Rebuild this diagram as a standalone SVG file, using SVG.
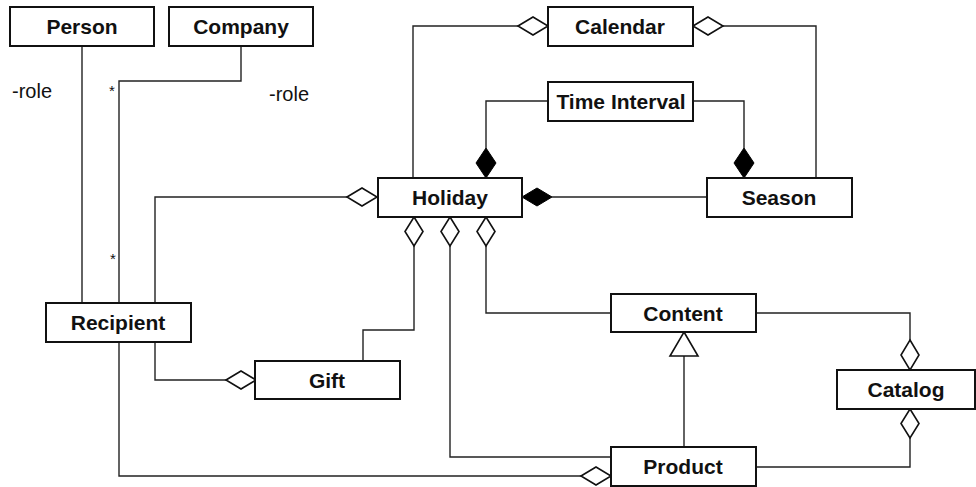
<svg xmlns="http://www.w3.org/2000/svg" width="976" height="487" viewBox="0 0 976 487">
<style>
.box{fill:#fff;stroke:#111;stroke-width:2}
.lbl{font-family:"Liberation Sans",Arial,sans-serif;font-weight:bold;font-size:21px;fill:#111;text-anchor:middle;dominant-baseline:central}
.txt{font-family:"Liberation Sans",Arial,sans-serif;font-size:20px;fill:#111}
.star{font-family:"Liberation Sans",Arial,sans-serif;font-size:15px;fill:#111}
.ln{fill:none;stroke:#222;stroke-width:1.4}
.od{fill:#fff;stroke:#111;stroke-width:1.6}
.fd{fill:#000;stroke:#000;stroke-width:1}
</style>
<rect width="976" height="487" fill="#fff"/>
<g id="connectors">
<path class="ln" d="M82 46V303"/>
<path class="ln" d="M241 46V81H119V303"/>
<path class="ln" d="M155 303V197H347"/>
<path class="ln" d="M155 342V380H226"/>
<path class="ln" d="M363 361V330H414V246"/>
<path class="ln" d="M119 342V476H581"/>
<path class="ln" d="M518 26H413V178"/>
<path class="ln" d="M723 26H816V178"/>
<path class="ln" d="M548 101H486V148"/>
<path class="ln" d="M693 101H744V148"/>
<path class="ln" d="M552 197H707"/>
<path class="ln" d="M450 246V457H611"/>
<path class="ln" d="M486 246V313H611"/>
<path class="ln" d="M684 356V447"/>
<path class="ln" d="M756 313H910V340"/>
<path class="ln" d="M910 438V467H756"/>
<polygon class="od" points="347,197 362,188 377,197 362,206"/>
<polygon class="od" points="226,380 241,371 256,380 241,389"/>
<polygon class="od" points="581,476 596,467 611,476 596,485"/>
<polygon class="od" points="518,26 533,17 548,26 533,35"/>
<polygon class="od" points="693,26 708,17 723,26 708,35"/>
<polygon class="od" points="414,217 423,231.5 414,246 405,231.5"/>
<polygon class="od" points="450,217 459,231.5 450,246 441,231.5"/>
<polygon class="od" points="486,217 495,231.5 486,246 477,231.5"/>
<polygon class="od" points="910,340 919,355 910,370 901,355"/>
<polygon class="od" points="910,409 919,423.5 910,438 901,423.5"/>
<polygon class="fd" points="522,197 537,188 552,197 537,206"/>
<polygon class="fd" points="486,148 496,163 486,178 476,163"/>
<polygon class="fd" points="744,148 754,163 744,178 734,163"/>
<polygon class="od" points="684,332 698,356 670,356"/>
<text class="txt" x="12" y="98">-role</text>
<text class="txt" x="269" y="101">-role</text>
<text class="star" x="109" y="96">*</text>
<text class="star" x="110" y="264">*</text>
</g>
<g id="person"><rect class="box" x="10" y="7" width="144" height="39"/><text class="lbl" x="82" y="26.5">Person</text></g>
<g id="company"><rect class="box" x="169" y="7" width="144" height="39"/><text class="lbl" x="241" y="26.5">Company</text></g>
<g id="calendar"><rect class="box" x="548" y="7" width="145" height="39"/><text class="lbl" x="620" y="26.5">Calendar</text></g>
<g id="timeinterval"><rect class="box" x="548" y="82" width="145" height="39"/><text class="lbl" x="621" y="101.5">Time Interval</text></g>
<g id="holiday"><rect class="box" x="378" y="178" width="144" height="39"/><text class="lbl" x="450" y="197.5">Holiday</text></g>
<g id="season"><rect class="box" x="707" y="178" width="145" height="39"/><text class="lbl" x="779" y="197.5">Season</text></g>
<g id="recipient"><rect class="box" x="46" y="303" width="145" height="39"/><text class="lbl" x="118" y="322.5">Recipient</text></g>
<g id="gift"><rect class="box" x="255" y="361" width="145" height="38"/><text class="lbl" x="327" y="380">Gift</text></g>
<g id="content"><rect class="box" x="611" y="294" width="145" height="38"/><text class="lbl" x="683" y="313">Content</text></g>
<g id="catalog"><rect class="box" x="837" y="370" width="138" height="39"/><text class="lbl" x="906" y="389.5">Catalog</text></g>
<g id="product"><rect class="box" x="611" y="447" width="145" height="39"/><text class="lbl" x="683" y="466.5">Product</text></g>
</svg>
